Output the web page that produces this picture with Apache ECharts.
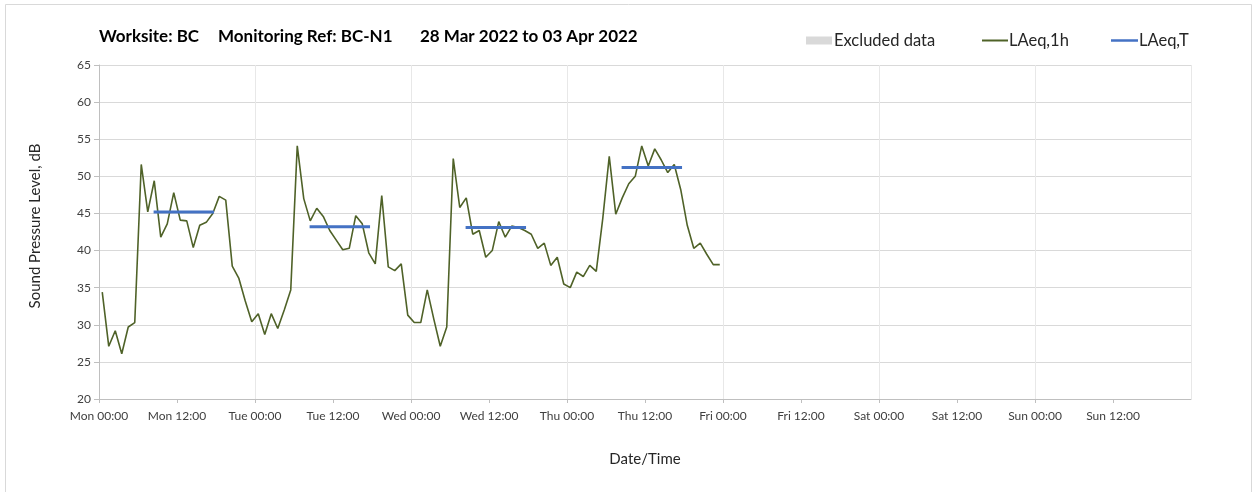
<!DOCTYPE html>
<html>
<head>
<meta charset="utf-8">
<script src="https://cdn.jsdelivr.net/npm/echarts@6/dist/echarts.min.js"></script>
<style>
html,body{margin:0;padding:0;background:#fff;}
#chart{width:1253px;height:492px;}
</style>
</head>
<body>
<div id="chart"></div>
<script>
// ---- data ----
const titleParts = ['Worksite: BC', 'Monitoring Ref: BC-N1', '28 Mar 2022 to 03 Apr 2022'];
const dayNames = ['Mon', 'Tue', 'Wed', 'Thu', 'Fri', 'Sat', 'Sun'];
// hourly LAeq,1h values starting Mon 00:00 (each plotted at the middle of its hour)
const laeq1h = [
  34.4, 27.1, 29.2, 26.1, 29.7, 30.3, 51.6, 45.2, 49.4, 41.8, 43.6, 47.8,
  44.1, 44.0, 40.4, 43.4, 43.8, 45.0, 47.3, 46.8, 37.9, 36.3, 33.2, 30.4,
  31.5, 28.7, 31.5, 29.5, 32.0, 34.7, 54.1, 47.0, 44.0, 45.7, 44.6, 42.7,
  41.4, 40.1, 40.3, 44.7, 43.6, 39.7, 38.2, 47.4, 37.8, 37.3, 38.2, 31.3,
  30.3, 30.3, 34.7, 30.8, 27.1, 29.7, 52.4, 45.8, 47.1, 42.2, 42.7, 39.1,
  40.0, 43.9, 41.8, 43.3, 43.1, 42.7, 42.2, 40.3, 41.0, 38.0, 39.1, 35.5,
  35.0, 37.1, 36.5, 38.0, 37.2, 44.3, 52.7, 44.9, 47.1, 49.0, 50.0, 54.1,
  51.4, 53.7, 52.2, 50.5, 51.6, 48.2, 43.4, 40.3, 41.0, 39.5, 38.1, 38.1
];
// LAeq,T daytime periods (hours from Mon 00:00)
const periodStart = [8.4, 32.4, 56.4, 80.4];
const periodEnd   = [17.7, 41.7, 65.7, 89.7];
const laeqT       = [45.2, 43.2, 43.1, 51.2];

// ---- build series data ----
const lineData = laeq1h.map((v, i) => [i + 0.5, v]);
const tData = [];
laeqT.forEach((v, i) => {
  tData.push([periodStart[i], v]);
  tData.push([periodEnd[i], v]);
  tData.push([periodEnd[i] + 1, '-']);
});

const FONT = 'Lato, "Open Sans", sans-serif';
const legendText = { fontSize: 16.5, fontFamily: FONT, color: '#262626' };
const chart = echarts.init(document.getElementById('chart'));
chart.setOption({
  animation: false,
  backgroundColor: '#fff',
  graphic: [
    { type: 'rect', shape: { x: 5.5, y: 4.5, width: 1246, height: 520 },
      style: { fill: 'none', stroke: '#d9d9d9', lineWidth: 1 }, silent: true },
    { type: 'text', left: 99, top: 28, style: { text: titleParts[0], font: 'bold 17px ' + FONT, fill: '#000' } },
    { type: 'text', left: 218, top: 28, style: { text: titleParts[1], font: 'bold 17px ' + FONT, fill: '#000' } },
    { type: 'text', left: 420, top: 28, style: { text: titleParts[2], font: 'bold 17px ' + FONT, fill: '#000' } }
  ],
  legend: [
    { data: [{ name: 'Excluded data', icon: 'rect' }], left: 801, top: 27, itemWidth: 26, itemHeight: 8,
      textStyle: Object.assign({ padding: [0, 0, 0, -3] }, legendText) },
    { data: [{ name: 'LAeq,1h', icon: 'rect' }], left: 977, top: 27, itemWidth: 26, itemHeight: 2,
      textStyle: Object.assign({ padding: [0, 0, 0, -4] }, legendText) },
    { data: [{ name: 'LAeq,T', icon: 'rect' }], left: 1106, top: 27, itemWidth: 27, itemHeight: 2.5,
      textStyle: Object.assign({ padding: [0, 0, 0, -4] }, legendText) }
  ],
  grid: { left: 99, right: 62, top: 65, bottom: 93, containLabel: false },
  xAxis: [
    {
      type: 'value', min: 0, max: 168, interval: 12,
      name: 'Date/Time', nameLocation: 'middle', nameGap: 53,
      nameTextStyle: { fontSize: 15, fontFamily: FONT, color: '#262626' },
      axisLine: { show: true, lineStyle: { color: '#bfbfbf', width: 1 } },
      axisTick: { show: true, length: 4, lineStyle: { color: '#bfbfbf' } },
      axisLabel: {
        fontSize: 12, fontFamily: FONT, color: '#404040', margin: 11,
        showMaxLabel: false,
        formatter: function (v) {
          const d = Math.floor(v / 24);
          if (d > 6) return '';
          const h = v % 24;
          return dayNames[d] + ' ' + (h === 0 ? '00:00' : '12:00');
        }
      },
      splitLine: { show: false }
    },
    {
      type: 'value', min: 0, max: 168, interval: 24, position: 'bottom',
      axisLine: { show: false }, axisTick: { show: false }, axisLabel: { show: false },
      splitLine: { show: true, lineStyle: { color: '#e8e8e8', width: 1 } }
    }
  ],
  yAxis: {
    type: 'value', min: 20, max: 65, interval: 5,
    name: 'Sound Pressure Level, dB', nameLocation: 'middle', nameGap: 56,
    nameTextStyle: { fontSize: 15, fontFamily: FONT, color: '#262626', padding: [0, 0, 0, 12] },
    axisLine: { show: true, lineStyle: { color: '#bfbfbf', width: 1 } },
    axisTick: { show: true, inside: false, length: 5, lineStyle: { color: '#bfbfbf' } },
    axisLabel: { fontSize: 12, fontFamily: FONT, color: '#404040', margin: 8 },
    splitLine: { show: true, lineStyle: { color: '#d9d9d9', width: 1 } }
  },
  series: [
    { name: 'Excluded data', type: 'bar', data: [], itemStyle: { color: '#d9d9d9' } },
    {
      name: 'LAeq,1h', type: 'line', data: lineData, symbol: 'none', showSymbol: false,
      lineStyle: { color: '#4f6228', width: 1.6 }, itemStyle: { color: '#4f6228' }, z: 3
    },
    {
      name: 'LAeq,T', type: 'line', data: tData, symbol: 'none', showSymbol: false, connectNulls: false,
      lineStyle: { color: '#4472c4', width: 3, cap: 'butt' }, itemStyle: { color: '#4472c4' }, z: 4
    }
  ]
});
</script>
</body>
</html>
